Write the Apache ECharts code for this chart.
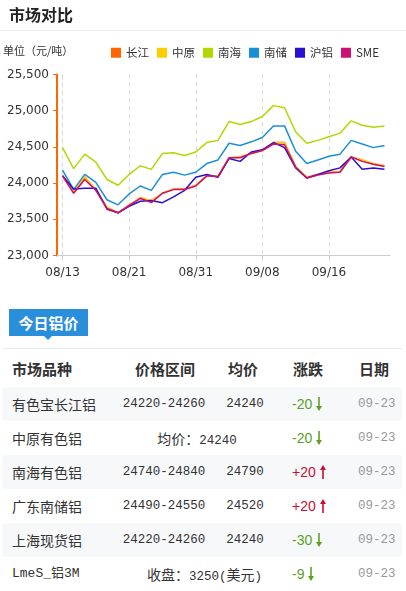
<!DOCTYPE html>
<html><head><meta charset="utf-8">
<script src="https://cdn.jsdelivr.net/npm/echarts@6/dist/echarts.min.js"></script>
<style>
html,body{margin:0;padding:0;background:#fff;width:406px;height:591px;overflow:hidden;font-family:"Noto Sans CJK SC","Noto Sans",sans-serif;}
#chart{position:absolute;left:0;top:0;width:406px;height:300px;}
#tab{position:absolute;left:9px;top:309px;width:79px;height:27px;background:#2a8fdb;color:#fff;font-weight:bold;font-size:15px;line-height:27px;text-align:center;}
#tri{position:absolute;left:44px;top:336px;width:0;height:0;border-left:4px solid transparent;border-right:4px solid transparent;border-top:4px solid #2a8fdb;}
#hline{position:absolute;left:2px;top:348px;width:400px;height:1px;background:#e3eaf3;}
.row{position:absolute;left:2px;width:400px;height:34px;}
.row.alt{background:#f7f8fa;}
.c{position:absolute;top:0;height:34px;line-height:34px;white-space:nowrap;color:#333;}
.hdr .c{font-weight:bold;font-size:15px;color:#333;}
.name{left:10px;font-size:14px;}
.mono{font-family:"Liberation Mono","Noto Sans CJK SC",monospace;font-size:12.5px;}
.ctr{text-align:center;}
.chg{left:290px;font-family:"Liberation Sans","Noto Sans",sans-serif;font-size:14px;}
.date{left:356px;color:#999;}
.chg svg{vertical-align:-2px;margin-left:4px;}
</style>
</head><body>
<div id="chart"></div>
<div id="tab">今日铝价</div><div id="tri"></div>
<div id="hline"></div>
<div id="table"></div>
<script>
// ---- chart data ----
const dates = ['08/13','08/14','08/15','08/16','08/19','08/20','08/21','08/22','08/23','08/26','08/27','08/29','08/31','09/02','09/03','09/04','09/05','09/06','09/08','09/09','09/10','09/11','09/12','09/13','09/16','09/17','09/18','09/19','09/20','09/23'];
const seriesNames = ['长江','中原','南海','南储','沪铝','SME'];
const changjiang = [24100,23870,24080,23910,23660,23590,23700,23790,23750,23860,23920,23920,23970,24100,24090,24350,24360,24410,24450,24560,24560,24230,24080,24120,24150,24160,24360,24320,24260,24240];
const zhongyuan  = [24100,23880,24090,23900,23670,23590,23690,23800,23760,23860,23920,23910,23970,24100,24090,24350,24360,24410,24450,24560,24560,24230,24080,24120,24150,24160,24360,24320,24270,24240];
const nanhai     = [24490,24200,24400,24290,24050,23970,24120,24240,24190,24410,24420,24380,24430,24560,24590,24850,24810,24850,24920,25070,25040,24710,24550,24590,24640,24690,24860,24800,24770,24790];
const nanchu     = [24180,23910,24120,24010,23770,23700,23850,23960,23900,24120,24150,24110,24150,24270,24320,24550,24520,24570,24630,24790,24790,24440,24270,24320,24370,24400,24590,24540,24490,24520];
const hulv       = [24100,23920,23930,23930,23640,23590,23680,23750,23760,23730,23810,23900,24080,24120,24080,24340,24300,24430,24460,24560,24490,24210,24070,24120,24170,24210,24360,24190,24210,24190];
const sme        = [24100,23860,24050,23900,23650,23590,23690,23790,23730,23860,23910,23910,23960,24100,24090,24350,24350,24410,24450,24540,24530,24220,24070,24110,24140,24150,24360,24300,24260,24230];
const yMin = 23000, yMax = 25500, yStep = 500;

// ---- table data ----
const tableHeaders = ['市场品种','价格区间','均价','涨跌','日期'];
const tableNames = ['有色宝长江铝','中原有色铝','南海有色铝','广东南储铝','上海现货铝','LmeS_铝3M'];
const tableRanges = ['24220-24260', null, '24740-24840', '24490-24550', '24220-24260', null];
const tableAvgs = ['24240', null, '24790', '24520', '24240', null];
const tableMerged = [null, '均价：24240', null, null, null, '收盘：3250(美元)'];
const tableChanges = [-20, -20, 20, 20, -30, -9];
const tableDates = ['09-23','09-23','09-23','09-23','09-23','09-23'];

const colors = ['#ff6600','#ffcc00','#b3d800','#1a8fd6','#2b0fd0','#cc1173'];
const values = [changjiang, zhongyuan, nanhai, nanchu, hulv, sme];
const gridDash = {color:'#d8d8d8', type:[4,4], width:1};

const chart = echarts.init(document.getElementById('chart'), null, {renderer:'canvas'});
chart.setOption({
  animation:false,
  color: colors,
  title:{text:'市场对比', left:4, top:2, textStyle:{fontSize:16, fontWeight:'bold', color:'#222', fontFamily:'Noto Sans CJK SC'}},
  graphic:[
    {type:'line', shape:{x1:0,y1:30.5,x2:406,y2:30.5}, style:{stroke:'#ececec', lineWidth:1}},
    {type:'text', left:3, top:45, style:{text:'单位（元/吨）', font:'11px "Noto Sans CJK SC"', fill:'#333'}}
  ],
  legend:{left:111, top:47, padding:0, itemWidth:10, itemHeight:10, itemGap:8, icon:'rect',
    textStyle:{fontSize:11.5, color:'#333', fontFamily:'Noto Sans CJK SC'}, data:seriesNames},
  grid:{left:57, right:16, top:74.5, bottom:44.5},
  xAxis:{type:'category', data:dates, boundaryGap:true,
    axisLine:{lineStyle:{color:'#cccccc'}},
    axisTick:{show:true, interval:5, alignWithLabel:true, length:5, lineStyle:{color:'#cccccc'}},
    axisLabel:{interval:5, color:'#333', fontSize:12, fontFamily:'DejaVu Sans', margin:11},
    splitLine:{show:true, interval:5, alignWithLabel:true, showMinLine:true, lineStyle:gridDash}
  },
  yAxis:{type:'value', min:yMin, max:yMax, interval:yStep,
    axisLine:{show:true, lineStyle:{color:'#ff6600', width:2}},
    axisTick:{show:true, length:4, lineStyle:{color:'#ff6600'}},
    axisLabel:{color:'#333', fontSize:12, fontFamily:'DejaVu Sans', margin:8,
      formatter:v=>v.toLocaleString('en-US')},
    splitLine:{show:false}
  },
  series: seriesNames.map((n,i)=>{
    const s = {name:n, type:'line', data:values[i], symbol:'none', lineStyle:{width:1.5, color:colors[i]}, itemStyle:{color:colors[i]}};
    if (i === 0) {
      s.markLine = {silent:true, symbol:'none', label:{show:false}, lineStyle:gridDash, emphasis:{disabled:true}, z:1,
        data:[{xAxis:dates[0]}]};
    }
    return s;
  })
});

// ---- table ----
const arrowSvg = (up, col) => up
  ? `<svg width="6" height="14" viewBox="0 0 6 14"><line x1="3" y1="3" x2="3" y2="14" stroke="${col}" stroke-width="1.6"/><polygon points="0,5 6,5 3,0" fill="${col}"/></svg>`
  : `<svg width="6" height="14" viewBox="0 0 6 14"><line x1="3" y1="0" x2="3" y2="11" stroke="${col}" stroke-width="1.6"/><polygon points="0,9 6,9 3,14" fill="${col}"/></svg>`;
let html = '';
html += `<div class="row hdr" style="top:352px">
  <div class="c" style="left:10px">${tableHeaders[0]}</div>
  <div class="c ctr" style="left:113px;width:100px">${tableHeaders[1]}</div>
  <div class="c ctr" style="left:211px;width:60px">${tableHeaders[2]}</div>
  <div class="c" style="left:291px">${tableHeaders[3]}</div>
  <div class="c" style="left:357px">${tableHeaders[4]}</div></div>`;
tableNames.forEach((n,i)=>{
  const top = 387 + i*34;
  const up = tableChanges[i] > 0;
  const col = up ? '#c8102e' : '#5aa21f';
  const chgText = (up?'+':'') + tableChanges[i];
  let mid = '';
  if (tableMerged[i]) {
    mid = `<div class="c ctr mono" style="left:145px;width:100px">${tableMerged[i].replace(/^(均价|收盘)：/, '<span style="font-family:Noto Sans CJK SC;font-size:14px">$1：</span>').replace('(美元)','(<span style="font-family:Noto Sans CJK SC;font-size:14px">美元</span>)')}</div>`;
  } else {
    mid = `<div class="c ctr mono" style="left:112px;width:100px">${tableRanges[i]}</div>
           <div class="c ctr mono" style="left:213px;width:60px">${tableAvgs[i]}</div>`;
  }
  const isLme = n.startsWith('Lme');
  html += `<div class="row${i%2===0?' alt':''}" style="top:${top}px">
    <div class="${isLme?'c name mono':'c name'}" ${isLme?'style="font-size:13px"':''}>${n}</div>
    ${mid}
    <div class="c chg" style="color:${col}">${chgText}${arrowSvg(up,col)}</div>
    <div class="c date mono">${tableDates[i]}</div></div>`;
});
document.getElementById('table').innerHTML = html;
</script>
</body></html>
